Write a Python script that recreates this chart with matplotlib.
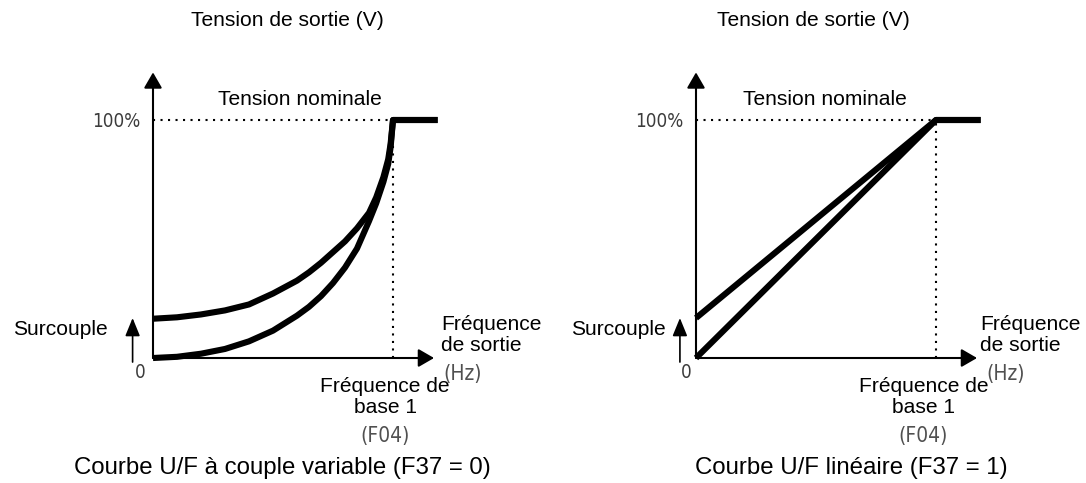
import numpy as np
import matplotlib
matplotlib.use('Agg')
import matplotlib.pyplot as plt

plt.rcParams['font.family'] = ['Liberation Sans', 'DejaVu Sans']

# frequency / voltage as fraction of base frequency / rated voltage
vt_boost_x = [0, 0.1, 0.2, 0.3, 0.4, 0.5, 0.6, 0.65, 0.7, 0.75, 0.8, 0.85, 0.9, 0.93, 0.96, 0.98, 0.99, 1.0]
vt_boost_y = [0.165, 0.171, 0.183, 0.2, 0.225, 0.271, 0.325, 0.36, 0.4, 0.445, 0.49, 0.545, 0.61, 0.675, 0.76, 0.835, 0.9, 1.0]
vt_x = [0, 0.1, 0.2, 0.3, 0.4, 0.5, 0.6, 0.65, 0.7, 0.75, 0.8, 0.85, 0.9, 0.93, 0.96, 0.98, 0.99, 1.0]
vt_y = [0, 0.005, 0.018, 0.038, 0.07, 0.115, 0.178, 0.215, 0.26, 0.315, 0.38, 0.46, 0.575, 0.65, 0.74, 0.815, 0.885, 1.0]

lin_boost_x = [0, 1.0]
lin_boost_y = [0.168, 1.0]
lin_x = [0, 1.0]
lin_y = [0, 1.0]

flat_end = 1.186   # rated voltage held above base frequency

titles = ['Courbe U/F à couple variable (F37 = 0)', 'Courbe U/F linéaire (F37 = 1)']

BODY = 15.1
GREY = '#3c3c3c'
NARROW = ['Liberation Sans Narrow', 'DejaVu Sans']
narrow = dict(family=NARROW, fontstretch='condensed', fontsize=13.5, color=GREY)
narrow_big = dict(family=NARROW, fontstretch='condensed', fontsize=15, color='#505050')


def arrow(ax, x0, y0, x1, y1, lw, hl, hw):
    ax.annotate('', xy=(x1, y1), xytext=(x0, y0),
                arrowprops=dict(arrowstyle='-|>,head_length={},head_width={}'.format(hl, hw),
                                lw=lw, color='black', shrinkA=0, shrinkB=0,
                                mutation_scale=10))


def draw_panel(ax, curves, title, off):
    ax.set_xlim(-0.6375, 1.625)
    ax.set_ylim(-0.5252, 1.5042)
    ax.axis('off')

    # axes with arrow heads
    arrow(ax, 0, 0, 0, 1.2, 1.5, 0.95, 0.55)
    arrow(ax, 0, 0, 1.171, 0, 1.5, 0.95, 0.55)

    # rated voltage / base frequency guides
    dots = (0, (1.0, 2.6))
    ax.plot([0, 1], [1, 1], color='black', lw=1.5, ls=dots)
    ax.plot([1, 1], [0, 1], color='black', lw=1.5, ls=dots)

    for xs, ys in curves:
        ax.plot(list(xs) + [flat_end], list(ys) + [1.0], color='black', lw=4.4,
                solid_joinstyle='round', solid_capstyle='butt')

    # torque boost arrow
    arrow(ax, off['arr'], -0.017, off['arr'], 0.168, 1.2, 1.1, 0.45)

    ax.text(off['top'], 1.42, 'Tension de sortie (V)', fontsize=BODY, ha='center', va='center')
    ax.text(off['nom'], 1.086, 'Tension nominale', fontsize=BODY, ha='center', va='center')
    ax.text(-0.054, 0.994, '100%', ha='right', va='center', **narrow)
    ax.text(off['zero'], -0.061, '0', ha='center', va='center', **narrow)
    ax.text(off['sur'], 0.118, 'Surcouple', fontsize=BODY, ha='left', va='center')
    ax.text(off['fs'], 0.097, 'Fréquence\nde sortie', fontsize=BODY, ha='left', va='center',
            linespacing=1.15)
    ax.text(1.21, -0.067, '(Hz)', ha='left', va='center', **narrow_big)
    ax.text(off['fb'], -0.163, 'Fréquence de\nbase 1', fontsize=BODY, ha='center', va='center',
            linespacing=1.15)
    ax.text(off['fb'], -0.328, '(F04)', ha='center', va='center', **narrow_big)
    ax.text(off['title'], -0.462, title, fontsize=17.3, ha='center', va='center')


fig = plt.figure(figsize=(10.86, 4.83), dpi=100)
ax1 = fig.add_axes([0, 0, 0.5, 1])
ax2 = fig.add_axes([0.5, 0, 0.5, 1])

draw_panel(ax1, [(vt_boost_x, vt_boost_y), (vt_x, vt_y)], titles[0],
           dict(arr=-0.085, top=0.558, nom=0.61, zero=-0.054, sur=-0.585, fs=1.2, fb=0.967,
                title=0.54))
draw_panel(ax2, [(lin_boost_x, lin_boost_y), (lin_x, lin_y)], titles[1],
           dict(arr=-0.067, top=0.4875, nom=0.5375, zero=-0.039, sur=-0.522, fs=1.185, fb=0.948,
                title=0.646))

fig.savefig('out.png', dpi=100)
